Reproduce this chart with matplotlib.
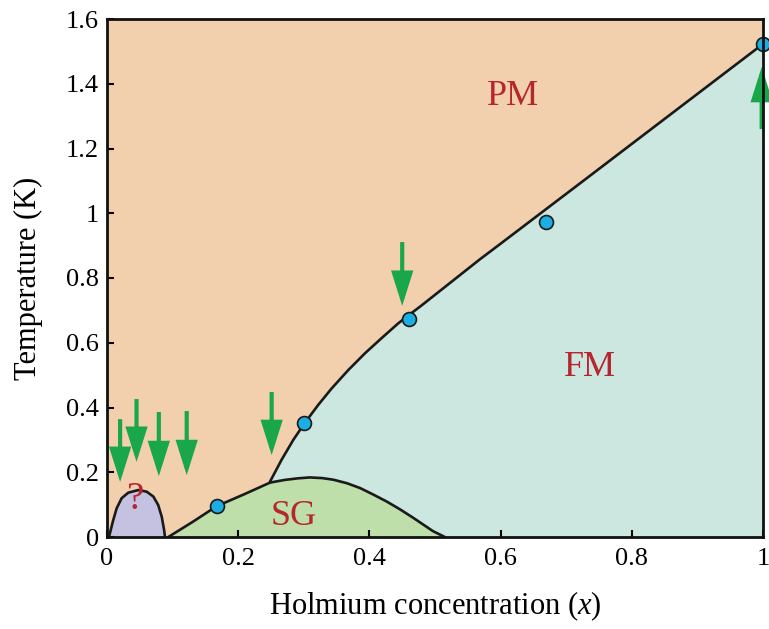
import matplotlib
matplotlib.use("Agg")
import matplotlib.pyplot as plt

plt.rcParams['font.family'] = ['Liberation Serif', 'DejaVu Serif']
plt.rcParams['mathtext.fontset'] = 'custom'
plt.rcParams['mathtext.rm'] = 'Liberation Serif'
plt.rcParams['mathtext.it'] = 'Liberation Serif:italic'

# PM / FM boundary
pmfm_x = [0.2485, 0.266, 0.284, 0.301, 0.322, 0.3425, 0.368, 0.393, 0.419,
          0.444, 0.460, 0.480, 0.5686, 0.600, 0.726, 1.0]
pmfm_y = [0.171, 0.238, 0.300, 0.351, 0.408, 0.459, 0.516, 0.567, 0.615,
          0.660, 0.685, 0.716, 0.858, 0.906, 1.100, 1.523]

# spin-glass dome
sg_x = [0.0935, 0.1316, 0.167, 0.208, 0.2485, 0.270, 0.290, 0.309, 0.328,
        0.345, 0.366, 0.386, 0.406, 0.426, 0.447, 0.467, 0.497, 0.515]
sg_y = [0.000, 0.048, 0.095, 0.131, 0.168, 0.176, 0.181, 0.184, 0.182,
        0.177, 0.166, 0.151, 0.131, 0.110, 0.085, 0.059, 0.018, 0.000]

# "?" dome
q_x = [0.003, 0.0096, 0.0148, 0.0224, 0.0325, 0.0477, 0.0605, 0.0706, 0.078,
       0.0834, 0.087, 0.0884]
q_y = [0.000, 0.053, 0.089, 0.120, 0.137, 0.145, 0.140, 0.125, 0.099,
       0.063, 0.022, 0.000]

# measured points
pts_x = [0.167, 0.301, 0.460, 0.669, 1.0]
pts_y = [0.095, 0.351, 0.673, 0.973, 1.523]

# green arrows: x, start y, end y
arr_x = [0.020, 0.045, 0.079, 0.1215, 0.251, 0.450, 0.998]
arr_y0 = [0.364, 0.426, 0.386, 0.389, 0.448, 0.911, 1.260]
arr_y1 = [0.170, 0.232, 0.188, 0.191, 0.253, 0.714, 1.452]

# region labels
lab_text = ['PM', 'FM', 'SG', '?']
lab_x = [0.619, 0.736, 0.284, 0.043]
lab_y = [1.36, 0.525, 0.062, 0.115]
lab_size = [26, 26, 26, 28]

xticks = [0, 0.2, 0.4, 0.6, 0.8, 1]
xticklabels = ['0', '0.2', '0.4', '0.6', '0.8', '1']
yticks = [0, 0.2, 0.4, 0.6, 0.8, 1, 1.2, 1.4, 1.6]
yticklabels = ['0', '0.2', '0.4', '0.6', '0.8', '1', '1.2', '1.4', '1.6']

c_pm = '#F2D0AE'
c_fm = '#CCE6E0'
c_sg = '#BEDEAA'
c_q = '#C4C2E0'
c_txt = '#B5262E'
c_pt = '#1CADE4'
c_arr = '#1AA64A'

fig = plt.figure(figsize=(7.69, 6.29), dpi=100)
ax = fig.add_axes([107/769, 92/629, 656/769, 518/629])
ax.set_xlim(0, 1)
ax.set_ylim(0, 1.6)
ax.set_facecolor(c_pm)

# FM region polygon
sg_idx = [i for i, v in enumerate(sg_x) if v >= pmfm_x[0]]
fm_px = list(pmfm_x) + [1.0, sg_x[-1]] + [sg_x[i] for i in reversed(sg_idx)]
fm_py = list(pmfm_y) + [0.0, 0.0] + [sg_y[i] for i in reversed(sg_idx)]
ax.fill(fm_px, fm_py, color=c_fm, lw=0, zorder=1)
ax.fill(sg_x, sg_y, color=c_sg, lw=0, zorder=1)
ax.fill(q_x, q_y, color=c_q, lw=0, zorder=1)

lw = 1.9
for xs, ys in ((pmfm_x, pmfm_y), (sg_x, sg_y), (q_x, q_y)):
    ax.plot(xs, ys, color='#1a1a1a', lw=lw, zorder=2,
            solid_capstyle='round', solid_joinstyle='round')

for x, y0, y1 in zip(arr_x, arr_y0, arr_y1):
    ax.annotate('', xy=(x, y1), xytext=(x, y0),
                arrowprops=dict(arrowstyle='-|>,head_length=0.95,head_width=0.3',
                                mutation_scale=20, color=c_arr, lw=3,
                                joinstyle='miter', capstyle='butt',
                                shrinkA=0, shrinkB=0), zorder=3)

ax.plot(pts_x, pts_y, 'o', ms=10, mfc=c_pt, mec='#1a1a1a', mew=1.2,
        zorder=5, clip_on=False)

for t, x, y, s in zip(lab_text, lab_x, lab_y, lab_size):
    ax.text(x, y, t, color=c_txt, fontsize=s, ha='center', va='center', zorder=4)

ax.set_xticks(xticks)
ax.set_xticklabels(xticklabels)
ax.set_yticks(yticks)
ax.set_yticklabels(yticklabels)
ax.tick_params(axis='y', direction='in', length=5, width=1.5, labelsize=19, pad=6)
ax.tick_params(axis='x', direction='in', length=5, width=1.5, labelsize=19, pad=8)
for s in ax.spines.values():
    s.set_linewidth(2)
    s.set_color('#111111')
    s.set_zorder(6)

ax.set_xlabel('Holmium concentration ($x$)', fontsize=22, labelpad=14)
ax.set_ylabel('Temperature (K)', fontsize=22, labelpad=16)

fig.savefig('out.png', dpi=100)
